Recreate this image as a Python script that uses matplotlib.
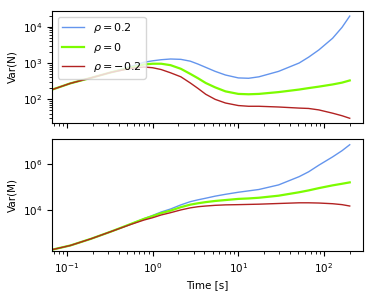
import numpy as np
import matplotlib
matplotlib.use("Agg")
import matplotlib.pyplot as plt
from matplotlib.ticker import FixedLocator, NullLocator

# log10 of time [s]
log_t = [-1.17, -0.96, -0.72, -0.49, -0.26, -0.1, 0.0, 0.1, 0.21, 0.33,
         0.44, 0.53, 0.62, 0.73, 0.85, 1.0, 1.12, 1.24, 1.47, 1.71,
         1.82, 1.94, 2.10, 2.21, 2.30]

# log10 Var(N)
logN_pos = [2.27, 2.44, 2.59, 2.74, 2.90, 3.02, 3.06, 3.09, 3.11, 3.10,
            3.05, 2.97, 2.88, 2.77, 2.67, 2.59, 2.58, 2.62, 2.77, 3.00,
            3.16, 3.36, 3.68, 3.98, 4.29]
logN_zero = [2.27, 2.44, 2.59, 2.74, 2.87, 2.96, 2.98, 2.98, 2.94, 2.84,
             2.70, 2.58, 2.45, 2.33, 2.22, 2.15, 2.14, 2.15, 2.20, 2.27,
             2.31, 2.35, 2.41, 2.46, 2.52]
logN_neg = [2.27, 2.44, 2.59, 2.74, 2.85, 2.89, 2.87, 2.82, 2.73, 2.62,
            2.45, 2.30, 2.14, 2.00, 1.90, 1.83, 1.81, 1.81, 1.79, 1.76,
            1.75, 1.71, 1.62, 1.55, 1.48]

# log10 Var(M)
logM_pos = [2.29, 2.47, 2.76, 3.07, 3.40, 3.64, 3.78, 3.93, 4.06, 4.24,
            4.38, 4.46, 4.53, 4.62, 4.70, 4.79, 4.85, 4.91, 5.11, 5.47,
            5.68, 5.97, 6.33, 6.60, 6.86]
logM_zero = [2.29, 2.47, 2.76, 3.07, 3.40, 3.63, 3.75, 3.88, 3.99, 4.14,
             4.25, 4.31, 4.36, 4.41, 4.45, 4.50, 4.52, 4.55, 4.64, 4.79,
             4.87, 4.97, 5.09, 5.16, 5.22]
logM_neg = [2.29, 2.47, 2.76, 3.07, 3.38, 3.58, 3.68, 3.80, 3.90, 4.02,
            4.11, 4.16, 4.19, 4.22, 4.24, 4.25, 4.26, 4.27, 4.30, 4.33,
            4.33, 4.32, 4.29, 4.25, 4.19]

labels = [r"$\rho = 0.2$", r"$\rho = 0$", r"$\rho = -0.2$"]
colors = ["cornflowerblue", "lawngreen", "firebrick"]
widths = [1.0, 1.6, 1.0]

t = 10 ** np.array(log_t)
top_series = [logN_pos, logN_zero, logN_neg]
bot_series = [logM_pos, logM_zero, logM_neg]

plt.rcParams["font.size"] = 7.5
fig = plt.figure(figsize=(3.75, 3.0), dpi=100)
ax1 = fig.add_axes([52/375, 1 - 123/300, 311/375, 112/300])
ax2 = fig.add_axes([52/375, 1 - 251/300, 311/375, 112/300], sharex=ax1)

for s, lab, c, w in zip(top_series, labels, colors, widths):
    ax1.plot(t, 10 ** np.array(s), color=c, lw=w, label=lab)
for s, c, w in zip(bot_series, colors, widths):
    ax2.plot(t, 10 ** np.array(s), color=c, lw=w)

for ax in (ax1, ax2):
    ax.set_xscale("log")
    ax.set_yscale("log")
    ax.tick_params(labelsize=7.5)
ax1.set_xlim(0.067, 285)
ax1.set_ylim(10 ** 1.35, 10 ** 4.43)
ax2.set_ylim(10 ** 2.23, 10 ** 7.11)
ax2.yaxis.set_major_locator(FixedLocator([1e4, 1e6]))
ax2.yaxis.set_minor_locator(NullLocator())
ax1.tick_params(labelbottom=False)
ax1.set_ylabel("Var(N)", fontsize=7.5)
ax2.set_ylabel("Var(M)", fontsize=7.5)
ax2.set_xlabel("Time [s]", fontsize=7.5)
ax1.legend(loc="upper left", fontsize=8)

fig.savefig("out.png", dpi=100)
